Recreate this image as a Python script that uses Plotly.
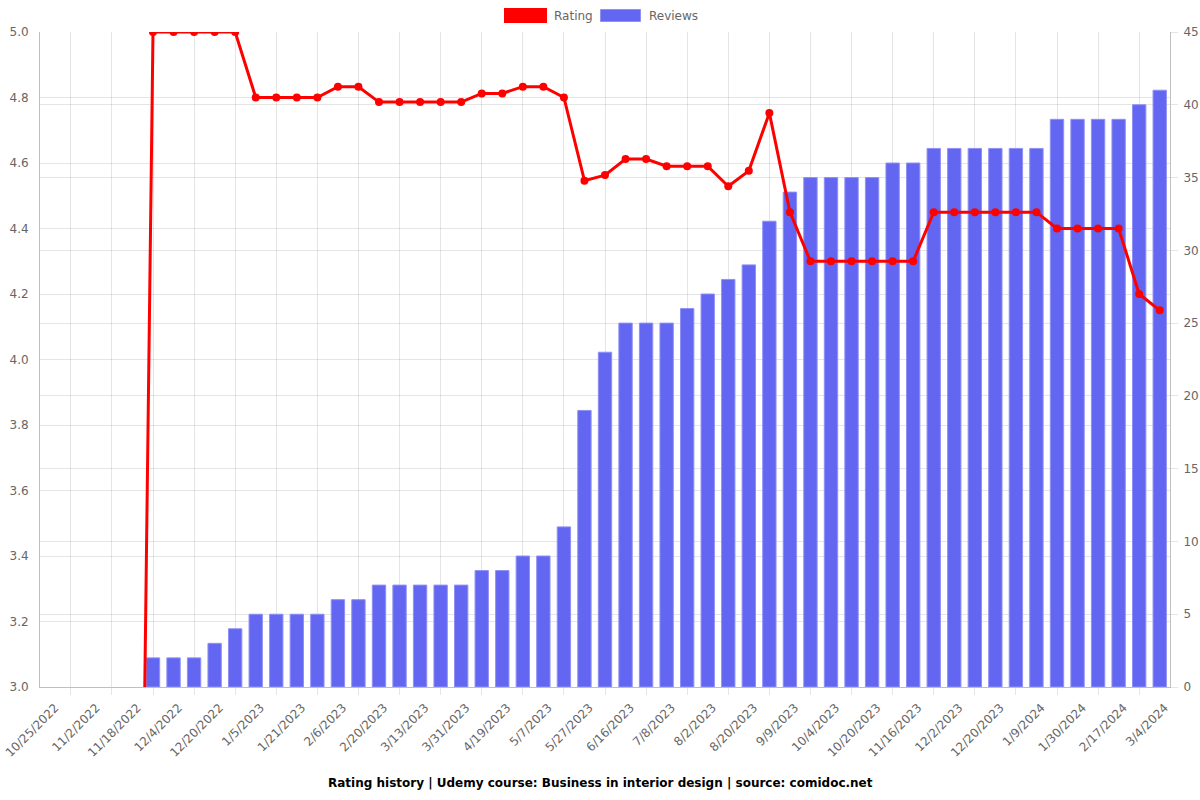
import plotly.graph_objects as go

# ---- data ----
tick_labels = ["10/25/2022", "11/2/2022", "11/18/2022", "12/4/2022", "12/20/2022",
               "1/5/2023", "1/21/2023", "2/6/2023", "2/20/2023", "3/13/2023",
               "3/31/2023", "4/19/2023", "5/7/2023", "5/27/2023", "6/16/2023",
               "7/8/2023", "8/2/2023", "8/20/2023", "9/9/2023", "10/4/2023",
               "10/20/2023", "11/16/2023", "12/2/2023", "12/20/2023", "1/9/2024",
               "1/30/2024", "2/17/2024", "3/4/2024"]

rating = [0, 0, 0, 0, 0,
          5.0, 5.0, 5.0, 5.0, 5.0,
          4.8, 4.8, 4.8, 4.8, 4.833, 4.833,
          4.786, 4.786, 4.786, 4.786, 4.786,
          4.8125, 4.8125, 4.833, 4.833, 4.8,
          4.546, 4.563, 4.612, 4.612, 4.59, 4.59, 4.59,
          4.529, 4.576, 4.753, 4.45,
          4.30, 4.30, 4.30, 4.30, 4.30, 4.30,
          4.45, 4.45, 4.45, 4.45, 4.45, 4.45,
          4.40, 4.40, 4.40, 4.40, 4.20, 4.15]

reviews = [0, 0, 0, 0, 0,
           2, 2, 2, 3, 4,
           5, 5, 5, 5, 6, 6,
           7, 7, 7, 7, 7,
           8, 8, 9, 9, 11,
           19, 23, 25, 25, 25, 26, 27,
           28, 29, 32, 34,
           35, 35, 35, 35, 36, 36,
           37, 37, 37, 37, 37, 37,
           39, 39, 39, 39, 40, 41]

title_text = "Rating history | Udemy course: Business in interior design | source: comidoc.net"

n = len(rating)
x = list(range(n))
label_pos = [2 * i for i in range(len(tick_labels))]
grid_pos = [2 * i + 1 for i in range(len(tick_labels) - 1)]

W, H = 1200, 800
L, R, T, B = 40, 30, 32, 113
FONT = "DejaVu Sans"
GRID = "rgba(0,0,0,0.1)"
AXIS = "rgba(0,0,0,0.25)"
TXT = "#666666"


def px_x(p):
    return (p - L) / (W - L - R)


def px_y(p):
    return (H - B - p) / (H - T - B)


fig = go.Figure()

fig.add_trace(go.Bar(
    x=x, y=reviews, name="Reviews", yaxis="y",
    width=0.65,
    marker=dict(color="#6366f1",
                line=dict(color="#8e90f6",
                          width=[1 if v > 0 else 0 for v in reviews])),
))

fig.add_trace(go.Scatter(
    x=x, y=rating, name="Rating", yaxis="y2", mode="lines+markers",
    line=dict(color="#ff0000", width=3),
    marker=dict(color="#ff0000", size=8),
))

fig.update_layout(
    width=W, height=H,
    margin=dict(l=L, r=R, t=T, b=B, autoexpand=False),
    paper_bgcolor="white", plot_bgcolor="white",
    showlegend=False,
    font=dict(family=FONT, size=12, color=TXT),
    xaxis=dict(
        range=[-0.5, n - 0.5], automargin=False,
        tickmode="array", tickvals=label_pos, ticktext=tick_labels,
        tickangle=-45, ticks="", showgrid=False,
        ticklabeloverflow="allow", ticklabelshift=5, ticklabelstandoff=8,
        showline=True, linecolor=AXIS, linewidth=1, mirror=False,
        zeroline=False,
        tickfont=dict(family=FONT, size=12, color=TXT),
        minor=dict(tickmode="array", tickvals=grid_pos, showgrid=True,
                   gridcolor=GRID, gridwidth=1, ticks="outside",
                   ticklen=7, tickcolor=GRID),
    ),
    yaxis=dict(
        side="right", range=[0, 45], dtick=5, tick0=0, automargin=False,
        showgrid=True, gridcolor=GRID, zeroline=False,
        showline=True, linecolor=AXIS, linewidth=1,
        ticks="outside", ticklen=7, tickcolor=GRID,
        ticklabelstandoff=3, ticklabeloverflow="allow",
        tickfont=dict(family=FONT, size=12, color=TXT),
    ),
    yaxis2=dict(
        side="left", overlaying="y", range=[3, 5], dtick=0.2, tick0=3,
        tickformat=".1f", automargin=False,
        showgrid=True, gridcolor=GRID, zeroline=False,
        showline=True, linecolor=AXIS, linewidth=1,
        ticks="", ticklabelstandoff=8, ticklabeloverflow="allow",
        tickfont=dict(family=FONT, size=12, color=TXT),
    ),
)

# bottom title
fig.add_annotation(text="<b>" + title_text + "</b>", xref="paper", yref="paper",
                   x=px_x(600), y=px_y(783), xanchor="center", yanchor="middle",
                   showarrow=False,
                   font=dict(family=FONT, size=12, color="#000000"))

# custom chart.js-style legend (boxes + text)
legend_items = [("Rating", "#ff0000", "#ff0000", 3, 505.5, 545.5, 552),
                ("Reviews", "#6366f1", "#8e90f6", 1, 600.5, 640.5, 647)]
for name, fill, edge, lw, bx0, bx1, tx in legend_items:
    fig.add_shape(type="rect", xref="paper", yref="paper",
                  x0=px_x(bx0), x1=px_x(bx1), y0=px_y(21.5), y1=px_y(9.5),
                  fillcolor=fill, line=dict(color=edge, width=lw))
    fig.add_annotation(text=name, xref="paper", yref="paper",
                       x=px_x(tx), y=px_y(16), xanchor="left", yanchor="middle",
                       showarrow=False,
                       font=dict(family=FONT, size=12, color=TXT))

fig.write_html("out.html",
               config={"displayModeBar": False},
               post_script="document.body.style.margin='0';"
                           "document.body.style.overflow='hidden';")
